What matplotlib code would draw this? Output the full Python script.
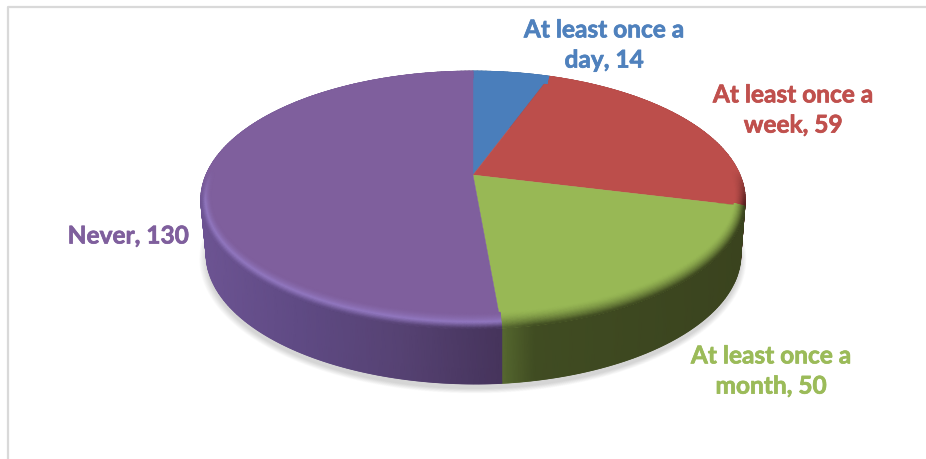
import numpy as np
import matplotlib
matplotlib.use("Agg")
import matplotlib.pyplot as plt
import matplotlib.patheffects as pe
from matplotlib.collections import LineCollection
from matplotlib.colors import to_rgb
from matplotlib.lines import Line2D
from matplotlib.path import Path
from matplotlib.transforms import Transform

categories = ["At least once a day", "At least once a week", "At least once a month", "Never"]
values = [14, 59, 50, 130]
label_lines = [("At least once a", "day"), ("At least once a", "week"), ("At least once a", "month"), ("", "Never")]
face_colors = ["#4a7ebb", "#bc4e4b", "#98b855", "#7f5f9d"]
text_colors = ["#4f81bd", "#c0504d", "#9bbb59", "#7f5f9d"]
label_pos = [(604, 46), (793, 111), (771, 372), (128, 237)]

# perspective of the tilted disc, in figure pixels
CX, CY, K, A, B = 473.0, 176.0, 0.194, 124.0, 267.0


def project(x, y):
    d = 1 + K * y
    return CX + B * x / d, CY - A * y / d


class Tilt(Transform):
    input_dims = 2
    output_dims = 2
    has_inverted = False

    def transform_non_affine(self, values):
        v = np.asarray(values, float)
        return np.column_stack(project(v[:, 0], v[:, 1]))

    def transform_path_non_affine(self, path):
        pts = []
        for bez, code in path.iter_bezier():
            if code == Path.MOVETO:
                continue
            pts.append(bez(np.linspace(0, 1, 24)))
        return Path(self.transform_non_affine(np.vstack(pts)))


def lower_rim(px, py):
    return CX + 29 + (px - CX - 29) * 0.982, py + 55.0 - np.abs(px - 502) * 0.0035


SIDE_STOPS = {
    0: ([200, 750], ["#2f4d70", "#2f4d70"]),
    1: ([650, 745], ["#6e2c2a", "#55201f"]),
    2: ([500, 512, 535, 745], ["#586a31", "#4f5f2b", "#404c22", "#3a431e"]),
    3: ([200, 300, 400, 500], ["#6d5493", "#5f4a84", "#564273", "#46345c"]),
}


def side_color(i, px):
    xs, cols = SIDE_STOPS[i]
    rgb = np.array([to_rgb(c) for c in cols])
    return np.stack([np.interp(px, xs, rgb[:, k]) for k in range(3)], axis=-1)


W, H = 926, 460
fig = plt.figure(figsize=(W / 100, H / 100), dpi=100, facecolor="white")
ax = fig.add_axes([0, 0, 1, 1])
wedges, _ = ax.pie(values, colors=face_colors, startangle=90, counterclock=False,
                   wedgeprops=dict(linewidth=0.3))
ax.set_aspect("auto")
ax.set_xlim(0, W)
ax.set_ylim(H, 0)
ax.axis("off")

# chart border (left and top)
ax.add_line(Line2D([8, 8, W], [H, 8, 8], color="#d9d9d9", lw=1.6, zorder=1))

tilt = Tilt()
for w, col in zip(wedges, face_colors):
    w.set_transform(tilt + ax.transData)
    w.set_facecolor(col)
    w.set_edgecolor(col)
    w.set_zorder(5)

# shadow under the disc
t = np.linspace(0, 2 * np.pi, 400)
sx, sy = lower_rim(*project(np.cos(t), np.sin(t)))
mx, my = CX + 29, 255
for g in np.linspace(0, 1, 14):
    ax.fill(mx + (sx - mx) * (1.0 + 0.024 * g), my + (sy + 5 - my) * (1 + 0.035 * g),
            color="black", alpha=0.013, lw=0, zorder=2)

# side wall and rim bevel, per slice
for i, w in enumerate(wedges):
    a = np.radians(np.linspace(w.theta1, w.theta2, max(8, int(abs(w.theta2 - w.theta1)))))
    x, y = np.cos(a), np.sin(a)
    px, py = project(x, y)
    qx, qy = lower_rim(px, py)
    X = np.vstack([px, qx])
    Y = np.vstack([py, qy])
    C = np.stack([side_color(i, px), side_color(i, qx)])
    ax.pcolormesh(X, Y, C, shading="gouraud", zorder=3)
    seg = np.stack([np.column_stack([qx[:-1], qy[:-1]]), np.column_stack([qx[1:], qy[1:]])], axis=1)
    ax.add_collection(LineCollection(seg, colors=side_color(i, qx[:-1]), linewidths=1.0, zorder=3))

    # bevel: rows run from the inner edge (face colour) to the rim (side colour)
    base = np.array(to_rgb(face_colors[i]))
    s = np.linspace(0, 1, 13)
    SS, AA = np.meshgrid(s, np.arange(len(a)), indexing="ij")
    ux = x[AA] * (1 - 0.035 * (1 - SS))
    uy = y[AA] * (1 - 0.085 * (1 - SS))
    BX, BY = project(ux, uy)
    side = side_color(i, BX)
    if i == 3:
        hi = np.array(to_rgb("#9278c0"))
        m = SS[..., None]
        col = np.where(m < 0.6, base + (hi - base) * (m / 0.6) ** 1.5, hi + (side - hi) * ((m - 0.6) / 0.4))
    else:
        m = (SS[..., None]) ** 1.6
        col = base + (side - base) * m
    fw = np.clip((0.03 - uy) / 0.25, 0, 1)[..., None]
    col = base + (col - base) * fw
    ax.pcolormesh(BX, BY, np.clip(col, 0, 1), shading="gouraud", zorder=6)

# data labels
for (first, second), v, col, (lx, ly) in zip(label_lines, values, text_colors, label_pos):
    s = f"{second}, {v}"
    if first:
        s = f"{first}\n{s}"
    ax.text(lx, ly, s, color=col, family="Lato", weight="bold", fontsize=17.6,
            ha="center", va="center", linespacing=1.38, zorder=8,
            path_effects=[pe.withStroke(linewidth=0.5, foreground=col)])

fig.savefig("out.png", dpi=100, facecolor="white")
